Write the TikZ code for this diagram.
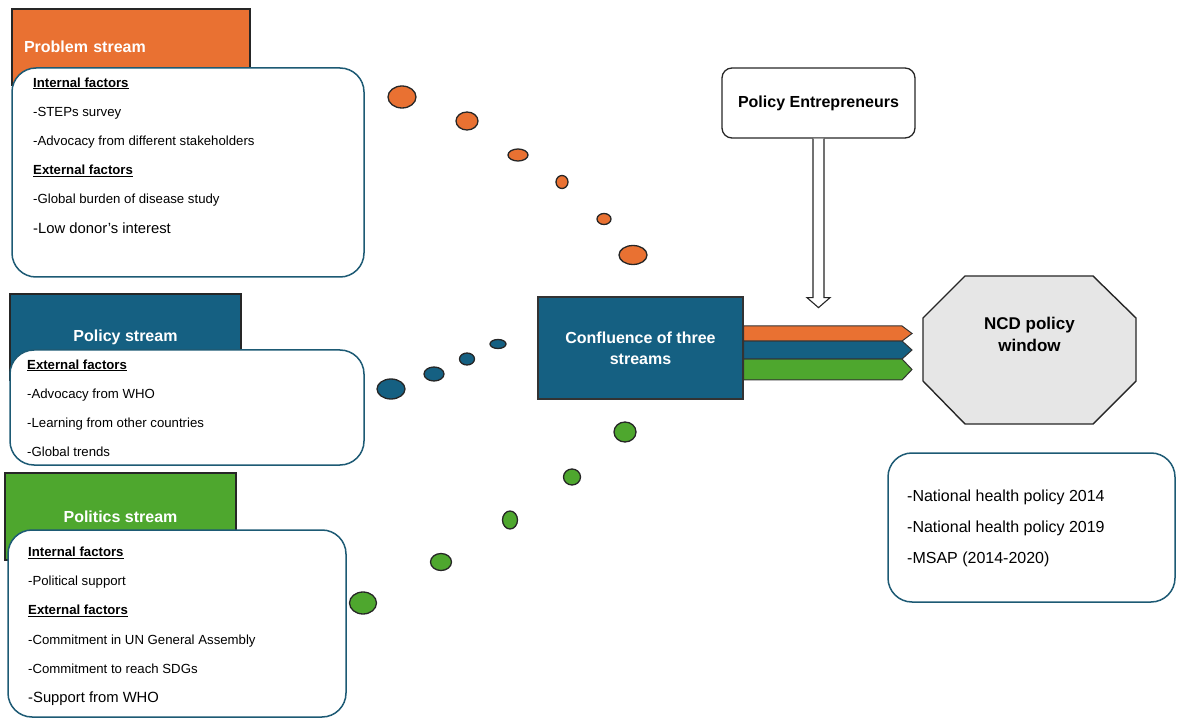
\documentclass[tikz,border=0pt]{standalone}
\usepackage{fontspec}
\setmainfont{Liberation Sans}
\usetikzlibrary{shapes.geometric}

\definecolor{orangeS}{HTML}{E97132}
\definecolor{tealS}{HTML}{156082}
\definecolor{greenS}{HTML}{4EA72E}
\definecolor{rimS}{HTML}{1D5A74}
\definecolor{winS}{HTML}{E6E6E6}

\begin{document}
\begin{tikzpicture}[x=1pt, y=-1pt,
    header/.style={draw=black!85, line width=1.2pt, inner sep=0pt,
        text=white, font=\fontsize{16}{19}\selectfont\bfseries},
    factorbox/.style={draw=rimS, line width=1.5pt, fill=white,
        rounded corners=24pt, inner sep=0pt},
    items/.style={anchor=north west, inner sep=0pt, align=left,
        font=\fontsize{13.2}{29.2}\selectfont},
    dot/.style={ellipse, draw=black!85, line width=1.3pt, fill=#1, inner sep=0pt},
    band/.style={draw=black!80, line width=1pt, fill=#1},
    hollow/.style={draw=black!85, line width=1.1pt, fill=white}
]
    \useasboundingbox (0,0) rectangle (1184,719);

    % problem stream
    \node[header, fill=orangeS, minimum width=238pt, minimum height=76pt,
        text width=214pt, align=left] (prob) at (131,47) {Problem stream};
    \node[factorbox, minimum width=352pt, minimum height=209pt] (probbox) at (188,172.5) {};
    \node[items] (probtext) at (33,77.3)
        {\underline{\textbf{Internal factors}}\\
         -STEPs survey\\
         -Advocacy from different stakeholders\\
         \underline{\textbf{External factors}}\\
         -Global burden of disease study\\
         {\fontsize{14.8}{29.2}\selectfont -Low donor’s interest}};

    % policy stream
    \node[header, fill=tealS, minimum width=231pt, minimum height=86pt] (pol) at (125.5,337) {Policy stream};
    \node[factorbox, minimum width=354pt, minimum height=115pt] (polbox) at (187,407.5) {};
    \node[items] (poltext) at (27,359.3)
        {\underline{\textbf{External factors}}\\
         -Advocacy from WHO\\
         -Learning from other countries\\
         -Global trends};

    % politics stream
    \node[header, fill=greenS, minimum width=231pt, minimum height=87pt] (polit) at (120.5,516.5) {Politics stream};
    \node[factorbox, minimum width=338pt, minimum height=187pt] (politbox) at (177,623.5) {};
    \node[items] (polittext) at (28,546.7)
        {\underline{\textbf{Internal factors}}\\
         -Political support\\
         \underline{\textbf{External factors}}\\
         -Commitment in UN General Assembly\\
         -Commitment to reach SDGs\\
         {\fontsize{14.8}{29.2}\selectfont -Support from WHO}};

    % stepping stones
    \node[dot=orangeS, minimum width=28pt, minimum height=22pt] (o1) at (402,97) {};
    \node[dot=orangeS, minimum width=22pt, minimum height=18pt] (o2) at (467,121) {};
    \node[dot=orangeS, minimum width=20pt, minimum height=12pt] (o3) at (518,155) {};
    \node[dot=orangeS, minimum width=12pt, minimum height=13pt] (o4) at (562,182) {};
    \node[dot=orangeS, minimum width=14pt, minimum height=11pt] (o5) at (604,219) {};
    \node[dot=orangeS, minimum width=28pt, minimum height=19pt] (o6) at (633,255) {};
    \node[dot=tealS, minimum width=28pt, minimum height=20pt] (b1) at (391,389) {};
    \node[dot=tealS, minimum width=20pt, minimum height=14pt] (b2) at (434,374) {};
    \node[dot=tealS, minimum width=15pt, minimum height=12pt] (b3) at (467,359) {};
    \node[dot=tealS, minimum width=16pt, minimum height=9pt] (b4) at (498,344) {};
    \node[dot=greenS, minimum width=22pt, minimum height=20pt] (g1) at (625,432) {};
    \node[dot=greenS, minimum width=17pt, minimum height=16pt] (g2) at (572,477) {};
    \node[dot=greenS, minimum width=15pt, minimum height=18pt] (g3) at (510,520) {};
    \node[dot=greenS, minimum width=21pt, minimum height=17pt] (g4) at (441,562) {};
    \node[dot=greenS, minimum width=27pt, minimum height=22pt] (g5) at (363,603) {};

    % entrepreneurs
    \node[draw=black!85, line width=1.3pt, rounded corners=10pt, minimum width=193pt,
        minimum height=70pt, font=\fontsize{16}{19}\selectfont\bfseries] (pe) at (818.5,103) {Policy Entrepreneurs};
    \draw[hollow] ([xshift=-5.5pt]pe.south) -- ++(0,159) -- ++(-6,0) -- ++(11.5,10)
        -- ++(11.5,-10) -- ++(-6,0) -- ([xshift=5.5pt]pe.south);

    % confluence
    \node[draw=black!80, line width=1.2pt, fill=tealS, text=white, align=center,
        minimum width=205pt, minimum height=102pt,
        font=\fontsize{16}{21}\selectfont\bfseries] (conf) at (640.5,348) {Confluence of three\\streams};
    \draw[band=greenS] ([yshift=-11pt]conf.east) -- (902,359) -- (912,369.5) -- (902,380) -- ([yshift=-32pt]conf.east) -- cycle;
    \draw[band=tealS] ([yshift=7pt]conf.east) -- (902,341) -- (912,350) -- (902,359) -- ([yshift=-11pt]conf.east) -- cycle;
    \draw[band=orangeS] ([yshift=22pt]conf.east) -- (902,326) -- (912,333.5) -- (902,341) -- ([yshift=7pt]conf.east) -- cycle;

    % policy window
    \draw[draw=black!85, line width=1.4pt, fill=winS] (965,276) -- (1093,276) -- (1136,318) -- (1136,381)
        -- (1093,424) -- (965,424) -- (923,381) -- (923,318) -- cycle;
    \node[align=center, font=\fontsize{17}{22}\selectfont\bfseries] (win) at (1029.5,334) {NCD policy\\window};

    % outputs
    \node[factorbox, minimum width=287pt, minimum height=149pt] (outbox) at (1031.5,527.5) {};
    \node[items, font=\fontsize{16}{30.8}\selectfont] (outtext) at (907,490)
        {-National health policy 2014\\
         -National health policy 2019\\
         -MSAP (2014-2020)};
\end{tikzpicture}
\end{document}
